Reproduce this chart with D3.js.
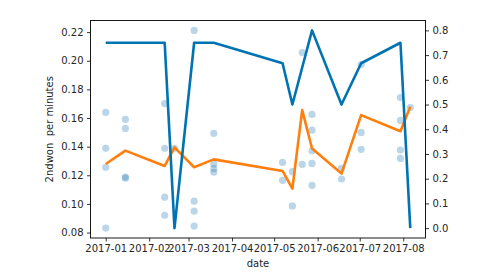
<!DOCTYPE html>
<html><head><meta charset="utf-8">
<script src="https://cdn.jsdelivr.net/npm/d3@7"></script>
<style>
body{margin:0;background:#fff;}
svg text{font-family:"DejaVu Sans",sans-serif;}
</style></head>
<body><svg id="c" width="482" height="280"></svg>
<script>
// Sunday dates for the lines
const dates = ["2017-01-01","2017-01-15","2017-02-12","2017-02-19","2017-03-05","2017-03-19","2017-05-07","2017-05-14","2017-05-21","2017-05-28","2017-06-18","2017-07-02","2017-07-30","2017-08-06"];
// right axis series (blue line)
const ratioValues = [0.75,0.75,0.75,0.0,0.75,0.75,0.667,0.5,0.65,0.8,0.5,0.667,0.75,0.0];
// left axis series (orange line)
const meanValues = [0.1279,0.1372,0.1265,0.1395,0.1256,0.1311,0.1230,0.1107,0.1655,0.1387,0.1212,0.1620,0.1508,0.1678];
// scatter points (left axis)
const pointDates = ["2017-01-01","2017-01-01","2017-01-01","2017-01-01",
  "2017-01-15","2017-01-15","2017-01-15","2017-01-15",
  "2017-02-12","2017-02-12","2017-02-12","2017-02-12",
  "2017-02-19",
  "2017-03-05","2017-03-05","2017-03-05","2017-03-05",
  "2017-03-19","2017-03-19","2017-03-19","2017-03-19",
  "2017-05-07","2017-05-07",
  "2017-05-14","2017-05-14",
  "2017-05-21","2017-05-21",
  "2017-05-28","2017-05-28","2017-05-28","2017-05-28","2017-05-28",
  "2017-06-18","2017-06-18",
  "2017-07-02","2017-07-02","2017-07-02",
  "2017-07-30","2017-07-30","2017-07-30","2017-07-30",
  "2017-08-06"];
const pointValues = [0.1639,0.1388,0.1256,0.0831,
  0.1590,0.1527,0.1180,0.1188,
  0.1701,0.1388,0.1047,0.0921,
  0.1388,
  0.2212,0.1019,0.0949,0.0845,
  0.1492,0.1279,0.1246,0.1221,
  0.1290,0.1165,
  0.1225,0.0986,
  0.2057,0.1276,
  0.1625,0.1515,0.1371,0.1283,0.1130,
  0.1249,0.1174,
  0.1973,0.1499,0.1381,
  0.1743,0.1583,0.1376,0.1318,
  0.1673];
const xTickLabels = ["2017-01","2017-02","2017-03","2017-04","2017-05","2017-06","2017-07","2017-08"];

const parse = d3.timeParse("%Y-%m-%d");
const L = 90.5, R = 425.5, T = 20.5, B = 238;
const svg = d3.select("#c");

function padDomain(min, max){ const p=(max-min)*0.05; return [min-p, max+p]; }
const allDates = dates.map(parse).concat(pointDates.map(parse));
const dExt = d3.extent(allDates);
const dSpan = dExt[1]-dExt[0];
const x = d3.scaleTime().domain([new Date(+dExt[0]-dSpan*0.05), new Date(+dExt[1]+dSpan*0.05)]).range([L,R]);
const leftVals = pointValues.concat(meanValues);
const yL = d3.scaleLinear().domain(padDomain(d3.min(leftVals), d3.max(leftVals))).range([B,T]);
const yR = d3.scaleLinear().domain(padDomain(d3.min(ratioValues), d3.max(ratioValues))).range([B,T]);

const plot = svg.append("g");
// scatter
plot.selectAll("circle").data(pointValues).join("circle")
  .attr("cx",(d,i)=>x(parse(pointDates[i]))).attr("cy",d=>yL(d)).attr("r",3.6)
  .attr("fill","#1f77b4").attr("fill-opacity",0.3);
// orange line
plot.append("path").datum(meanValues)
  .attr("d", d3.line().x((d,i)=>x(parse(dates[i]))).y(d=>yL(d)))
  .attr("fill","none").attr("stroke","#ff7f0e").attr("stroke-width",2.6).attr("stroke-linejoin","round");
// blue line
plot.append("path").datum(ratioValues)
  .attr("d", d3.line().x((d,i)=>x(parse(dates[i]))).y(d=>yR(d)))
  .attr("fill","none").attr("stroke","#0173b2").attr("stroke-width",2.6).attr("stroke-linejoin","round");

// frame
svg.append("rect").attr("x",L).attr("y",T).attr("width",R-L).attr("height",B-T)
  .attr("fill","none").attr("stroke","#000").attr("stroke-width",0.9);

function styleAxis(g){
  g.select(".domain").remove();
  g.selectAll(".tick line").attr("stroke","#000").attr("stroke-width",0.8);
  g.selectAll(".tick text").attr("font-size","10px").attr("fill","#262626").attr("font-family","DejaVu Sans");
}
const xTicks = xTickLabels.map(s=>parse(s+"-01"));
svg.append("g").attr("transform",`translate(0,${B})`)
  .call(d3.axisBottom(x).tickValues(xTicks).tickFormat(d3.timeFormat("%Y-%m")).tickSizeOuter(0).tickSize(3.5).tickPadding(3.5))
  .call(styleAxis);
svg.append("g").attr("transform",`translate(${L},0)`)
  .call(d3.axisLeft(yL).tickValues(d3.range(0.08,0.2201,0.02)).tickFormat(d3.format(".2f")).tickSize(3.5).tickPadding(3.5))
  .call(styleAxis);
svg.append("g").attr("transform",`translate(${R},0)`)
  .call(d3.axisRight(yR).tickValues(d3.range(0,0.801,0.1)).tickFormat(d3.format(".1f")).tickSize(3.5).tickPadding(3.5))
  .call(styleAxis);

svg.append("text").attr("x",(L+R)/2).attr("y",267).attr("text-anchor","middle")
  .attr("font-size","10px").attr("fill","#262626").text("date");
svg.append("text").attr("transform",`translate(53,${(T+B)/2}) rotate(-90)`).attr("text-anchor","middle")
  .attr("font-size","10px").attr("fill","#262626").attr("xml:space","preserve").style("white-space","pre").text("2ndwon  per minutes");
</script></body></html>
